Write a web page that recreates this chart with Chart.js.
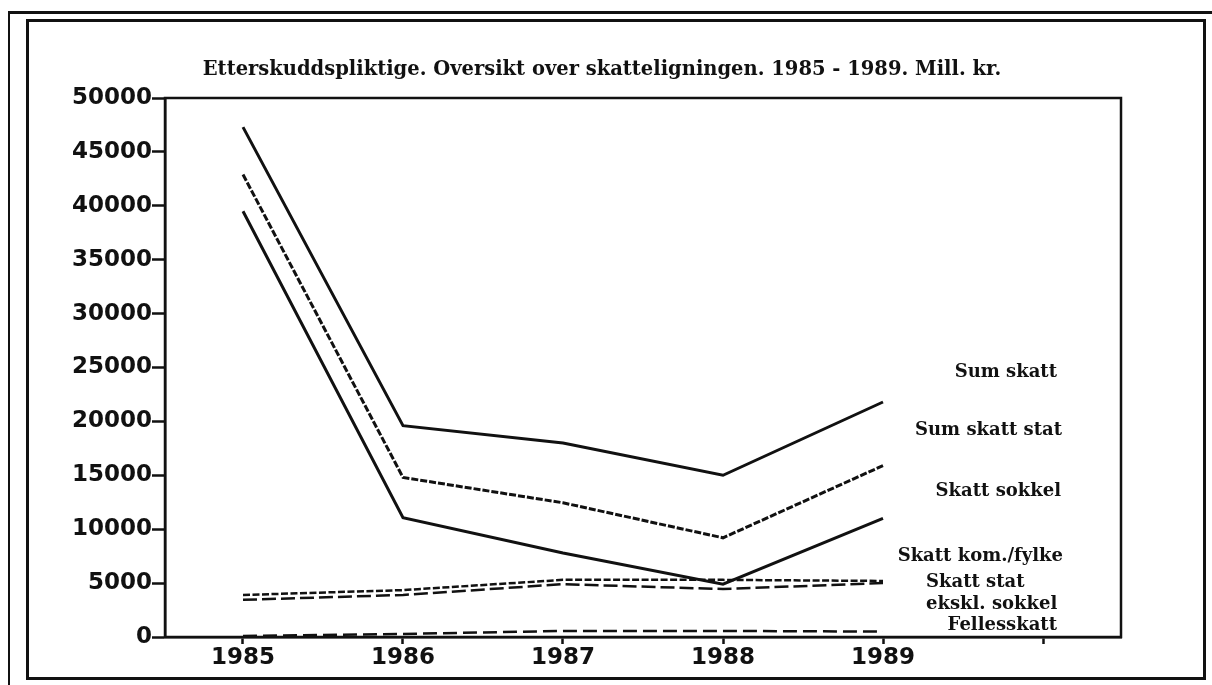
<!DOCTYPE html>
<html>
<head>
<meta charset="utf-8">
<script src="https://cdn.jsdelivr.net/npm/chart.js@4.4.1/dist/chart.umd.min.js"></script>
<style>
  html, body { margin: 0; padding: 0; background: #fff; width: 1212px; height: 685px; overflow: hidden; }
  #outer { position: absolute; left: 8px; top: 11px; width: 1300px; height: 700px; border-top: 3px solid #111; border-left: 2px solid #111; }
  #inner { position: absolute; left: 26px; top: 19px; width: 1180px; height: 661px; box-sizing: border-box; border: 3px solid #111; }
  #c { position: absolute; left: 0; top: 0; }
</style>
</head>
<body>
<div id="outer"></div>
<div id="inner"></div>
<canvas id="c" width="1212" height="685"></canvas>
<script>
// ---- data ----
const years = [1985, 1986, 1987, 1988, 1989];
const sumSkatt = [47300, 19600, 18000, 15000, 21800];
const sumSkattStat = [42900, 14800, 12450, 9200, 15900];
const skattSokkel = [39500, 11060, 7800, 4900, 11000];
const skattKomFylke = [3900, 4350, 5300, 5300, 5200];
const skattStatEkskl = [3450, 3900, 4900, 4450, 5000];
const fellesskatt = [100, 280, 560, 560, 500];
const xTickValues = [1985, 1986, 1987, 1988, 1989, 1990];
const xTickLabels = ['1985', '1986', '1987', '1988', '1989', ''];
const yTickLabels = ['0', '5000', '10000', '15000', '20000', '25000', '30000', '35000', '40000', '45000', '50000'];
const titleText = 'Etterskuddspliktige. Oversikt over skatteligningen. 1985 - 1989. Mill. kr.';
const seriesLabels = ['Sum skatt', 'Sum skatt stat', 'Skatt sokkel', 'Skatt kom./fylke', 'Skatt stat ekskl. sokkel', 'Fellesskatt'];

const INK = '#111';
function pts(vals) { return years.map((y, i) => ({ x: y, y: vals[i] })); }

const serif = '"DejaVu Serif", "Liberation Serif", serif';
const sans = '"DejaVu Sans", "Liberation Sans", sans-serif';

const annot = {
  id: 'annot',
  afterDraw(chart) {
    const ctx = chart.ctx;
    const a = chart.chartArea;
    ctx.save();
    ctx.strokeStyle = INK;
    ctx.lineWidth = 2.5;
    ctx.strokeRect(a.left, a.top, a.right - a.left, a.bottom - a.top);
    ctx.fillStyle = INK;
    ctx.textBaseline = 'middle';
    ctx.font = 'bold 19.5px ' + serif;
    ctx.textAlign = 'center';
    ctx.fillText(titleText, 602, 70);
    ctx.font = 'bold 18px ' + serif;
    ctx.textAlign = 'right';
    ctx.fillText(seriesLabels[0], 1057, 372);
    ctx.fillText(seriesLabels[1], 1062, 430);
    ctx.fillText(seriesLabels[2], 1061, 491);
    ctx.fillText(seriesLabels[3], 1063, 556);
    ctx.textAlign = 'left';
    ctx.fillText('Skatt stat', 926, 582);
    ctx.fillText('ekskl. sokkel', 926, 604);
    ctx.textAlign = 'right';
    ctx.fillText(seriesLabels[5], 1057, 625);
    ctx.restore();
  }
};

const common = { fill: false, tension: 0, pointRadius: 0, borderColor: INK, borderCapStyle: 'butt' };

new Chart(document.getElementById('c'), {
  type: 'line',
  data: {
    datasets: [
      { ...common, label: seriesLabels[0], data: pts(sumSkatt), borderWidth: 3 },
      { ...common, label: seriesLabels[1], data: pts(sumSkattStat), borderWidth: 3, borderDash: [7, 2] },
      { ...common, label: seriesLabels[2], data: pts(skattSokkel), borderWidth: 3 },
      { ...common, label: seriesLabels[3], data: pts(skattKomFylke), borderWidth: 2.5, borderDash: [7, 2.5] },
      { ...common, label: seriesLabels[4], data: pts(skattStatEkskl), borderWidth: 2.5, borderDash: [14, 5] },
      { ...common, label: seriesLabels[5], data: pts(fellesskatt), borderWidth: 2.5, borderDash: [14, 6] }
    ]
  },
  options: {
    responsive: false,
    animation: false,
    layout: { padding: { top: 98, right: 91, left: 0, bottom: 0 } },
    plugins: { legend: { display: false }, tooltip: { enabled: false }, title: { display: false } },
    scales: {
      x: {
        type: 'linear',
        min: 1984.5125,
        max: 1990.4875,
        afterBuildTicks(s) { s.ticks = xTickValues.map(v => ({ value: v })); },
        afterFit(s) { s.height = 685 - 637; },
        ticks: {
          color: INK,
          font: { family: sans, size: 23, weight: 'bold' },
          padding: 0,
          maxRotation: 0,
          autoSkip: false,
          callback: (v) => { const i = xTickValues.indexOf(v); return i >= 0 ? xTickLabels[i] : ''; }
        },
        grid: { drawOnChartArea: false, drawTicks: true, tickLength: 7, color: INK, tickWidth: 2.5 },
        border: { display: true, color: INK, width: 2.5 }
      },
      y: {
        min: 0,
        max: 50000,
        afterBuildTicks(s) { s.ticks = yTickLabels.map(t => ({ value: Number(t) })); },
        afterFit(s) { s.width = 165; },
        ticks: {
          color: INK,
          font: { family: sans, size: 23, weight: 'bold' },
          padding: 0,
          autoSkip: false,
          callback: (v) => { const i = yTickLabels.indexOf(String(v)); return i >= 0 ? yTickLabels[i] : ''; }
        },
        grid: { drawOnChartArea: false, drawTicks: true, tickLength: 13, color: INK, tickWidth: 2.5 },
        border: { display: true, color: INK, width: 2.5 }
      }
    }
  },
  plugins: [annot]
});
</script>
</body>
</html>
